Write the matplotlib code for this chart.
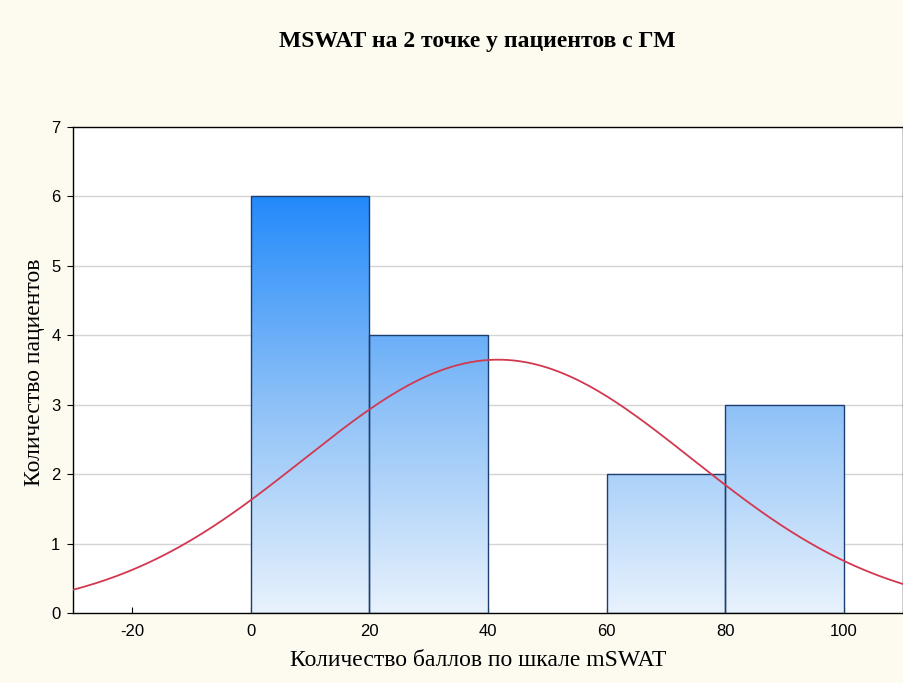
import numpy as np
import matplotlib
matplotlib.use("Agg")
import matplotlib.pyplot as plt
from matplotlib.colors import LinearSegmentedColormap

plt.rcParams["axes.unicode_minus"] = False

# Histogram of mSWAT scores
bin_edges = [0, 20, 40, 60, 80, 100]
counts = [6, 4, 0, 2, 3]
# Fitted normal curve parameters
fit_mean = 41.7
fit_sd = 32.8
n_patients = 15

x_ticks = [-20, 0, 20, 40, 60, 80, 100]
y_ticks = [0, 1, 2, 3, 4, 5, 6, 7]

title = "MSWAT на 2 точке у пациентов с ГМ"
x_label = "Количество баллов по шкале mSWAT"
y_label = "Количество пациентов"

bg = "#fdfaf0"
fig = plt.figure(figsize=(9.04, 6.83), dpi=100, facecolor=bg)
ax = fig.add_axes([73 / 904, 1 - 613 / 683, (903 - 73) / 904, (613 - 127) / 683])
ax.set_facecolor("white")

# horizontal grid
for yv in y_ticks[1:-1]:
    ax.axhline(yv, color="#d4d4d4", lw=1.0, zorder=0)

# vertical gradient fill, clipped to each bar
cmap = LinearSegmentedColormap.from_list("bluegrad", ["#e8f2fd", "#8cc0f7", "#1f88fb"])
grad = np.linspace(0, 1, 256).reshape(-1, 1)
for left, right, c in zip(bin_edges[:-1], bin_edges[1:], counts):
    if c == 0:
        continue
    bar = ax.bar(left, c, width=right - left, align="edge", facecolor="none",
                 edgecolor="#1b3f6e", lw=1.0, zorder=3)[0]
    im = ax.imshow(grad, extent=(left, right, 0, 6.1), origin="lower",
                   cmap=cmap, aspect="auto", zorder=2, interpolation="bilinear")
    im.set_clip_path(bar)
ax.set_xlim(-30, 110)
ax.set_ylim(0, 7)

# normal curve scaled to counts
xs = np.linspace(-30, 110, 400)
bw = bin_edges[1] - bin_edges[0]
ys = n_patients * bw / (fit_sd * np.sqrt(2 * np.pi)) * np.exp(-(xs - fit_mean) ** 2 / (2 * fit_sd ** 2))
ax.plot(xs, ys, color="#d2384f", lw=1.3, zorder=4)

ax.set_xticks(x_ticks)
ax.set_yticks(y_ticks)
ax.tick_params(axis="x", direction="in", length=4, width=0.8, pad=8, labelsize=12, colors="black")
ax.tick_params(axis="y", direction="out", length=4, width=0.8, pad=5, labelsize=12,
               right=True, colors="black")
for lab in ax.get_xticklabels() + ax.get_yticklabels():
    lab.set_fontfamily("Liberation Sans")
for s in ax.spines.values():
    s.set_color("black")
    s.set_linewidth(1.0)

fig.text(477 / 904, 1 - 42 / 683, title, ha="center", va="center",
         fontsize=17, fontweight="bold", fontfamily="Liberation Serif")
fig.text(478 / 904, 1 - 661 / 683, x_label, ha="center", va="center",
         fontsize=17, fontfamily="Liberation Serif")
fig.text(35 / 904, 1 - 372 / 683, y_label, ha="center", va="center", rotation=90,
         fontsize=17, fontfamily="Liberation Serif")

fig.savefig("out.png", dpi=100, facecolor=bg)
